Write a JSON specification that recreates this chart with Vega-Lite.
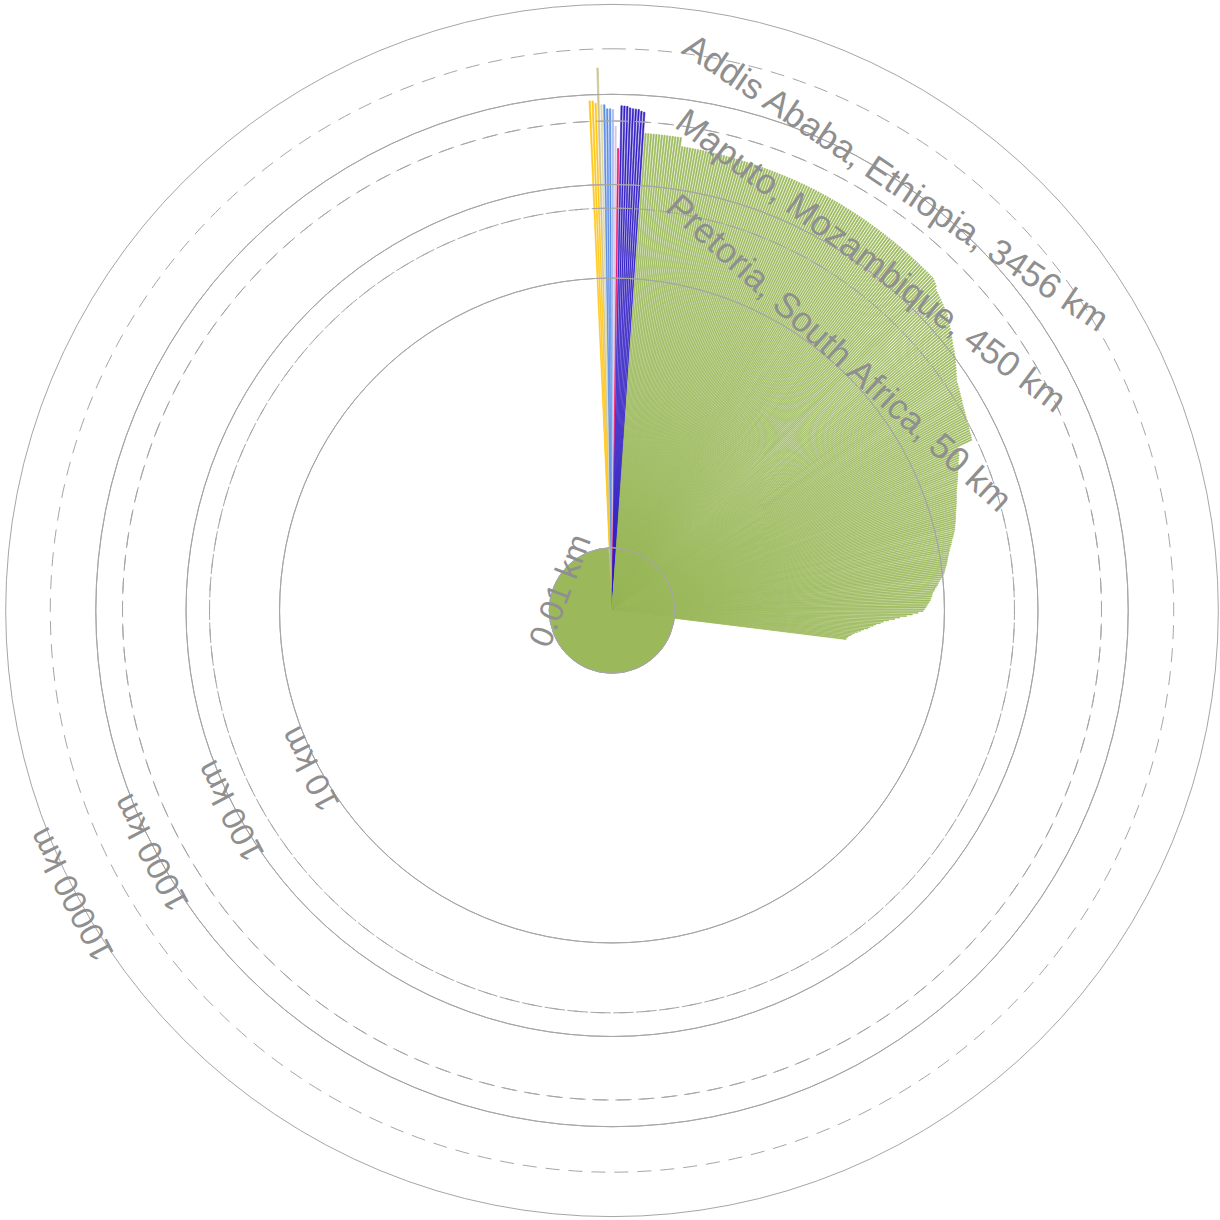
{
  "$schema": "https://vega.github.io/schema/vega-lite/v6.json",
  "width": 1216,
  "height": 1219,
  "padding": {"left": 4, "top": 1, "right": 0, "bottom": 0},
  "autosize": {"type": "none"},
  "background": "white",
  "config": {"view": {"stroke": null}},
  "datasets": {
    "bars": [
      {"g":"g1","n":1,"d":950},{"g":"g1","n":1,"d":948},{"g":"g1","n":1,"d":945},{"g":"g1","n":1,"d":890},
      {"g":"g2","n":1,"d":2190},
      {"g":"g3","n":1,"d":853},
      {"g":"g4","n":1,"d":850},{"g":"g4","n":1,"d":765},{"g":"g4","n":1,"d":765},
      {"g":"g5","n":1,"d":750},
      {"g":"g6","n":1,"d":490},
      {"g":"g7","n":1,"d":277},
      {"g":"g8","n":1,"d":830},{"g":"g8","n":1,"d":825},{"g":"g8","n":1,"d":820},{"g":"g8","n":1,"d":790},{"g":"g8","n":1,"d":775},{"g":"g8","n":1,"d":770},{"g":"g8","n":1,"d":765},{"g":"g8","n":1,"d":735},{"g":"g8","n":1,"d":720},
      {"g":"ZA","n":1,"d":420},{"g":"ZA","n":1,"d":420},{"g":"ZA","n":1,"d":419},{"g":"ZA","n":1,"d":419},{"g":"ZA","n":1,"d":419},{"g":"ZA","n":1,"d":418},{"g":"ZA","n":1,"d":418},{"g":"ZA","n":1,"d":418},{"g":"ZA","n":1,"d":417},{"g":"ZA","n":1,"d":417},{"g":"ZA","n":1,"d":417},{"g":"ZA","n":1,"d":416},{"g":"ZA","n":1,"d":416},{"g":"ZA","n":1,"d":415},
      {"g":"ZA","n":1,"d":332},{"g":"ZA","n":1,"d":332},{"g":"ZA","n":1,"d":331},{"g":"ZA","n":1,"d":331},{"g":"ZA","n":1,"d":331},{"g":"ZA","n":1,"d":330},{"g":"ZA","n":1,"d":330},{"g":"ZA","n":1,"d":330},{"g":"ZA","n":1,"d":329},{"g":"ZA","n":1,"d":329},
      {"g":"ZA","n":1,"d":329},{"g":"ZA","n":1,"d":328},{"g":"ZA","n":1,"d":328},{"g":"ZA","n":1,"d":328},{"g":"ZA","n":1,"d":327},{"g":"ZA","n":1,"d":327},{"g":"ZA","n":1,"d":327},{"g":"ZA","n":1,"d":326},{"g":"ZA","n":1,"d":326},{"g":"ZA","n":1,"d":326},
      {"g":"ZA","n":1,"d":325},{"g":"ZA","n":1,"d":325},{"g":"ZA","n":1,"d":325},{"g":"ZA","n":1,"d":324},{"g":"ZA","n":1,"d":324},{"g":"ZA","n":1,"d":324},{"g":"ZA","n":1,"d":323},{"g":"ZA","n":1,"d":323},{"g":"ZA","n":1,"d":323},{"g":"ZA","n":1,"d":322},
      {"g":"ZA","n":1,"d":322},{"g":"ZA","n":1,"d":322},{"g":"ZA","n":1,"d":321},{"g":"ZA","n":1,"d":321},{"g":"ZA","n":1,"d":321},{"g":"ZA","n":1,"d":320},{"g":"ZA","n":1,"d":320},{"g":"ZA","n":1,"d":320},{"g":"ZA","n":1,"d":319},{"g":"ZA","n":1,"d":319},
      {"g":"ZA","n":1,"d":319},{"g":"ZA","n":1,"d":318},{"g":"ZA","n":1,"d":318},{"g":"ZA","n":1,"d":318},{"g":"ZA","n":1,"d":318},{"g":"ZA","n":1,"d":317},{"g":"ZA","n":1,"d":317},
      {"g":"ZA","n":1,"d":316},{"g":"ZA","n":1,"d":316},{"g":"ZA","n":1,"d":315},{"g":"ZA","n":1,"d":315},{"g":"ZA","n":1,"d":314},{"g":"ZA","n":1,"d":314},{"g":"ZA","n":1,"d":313},{"g":"ZA","n":1,"d":313},{"g":"ZA","n":1,"d":312},{"g":"ZA","n":1,"d":311},
      {"g":"ZA","n":1,"d":311},{"g":"ZA","n":1,"d":310},{"g":"ZA","n":1,"d":310},{"g":"ZA","n":1,"d":309},{"g":"ZA","n":1,"d":308},{"g":"ZA","n":1,"d":308},{"g":"ZA","n":1,"d":307},{"g":"ZA","n":1,"d":307},{"g":"ZA","n":1,"d":306},{"g":"ZA","n":1,"d":305},
      {"g":"ZA","n":1,"d":305},{"g":"ZA","n":1,"d":304},{"g":"ZA","n":1,"d":303},{"g":"ZA","n":1,"d":303},{"g":"ZA","n":1,"d":302},{"g":"ZA","n":1,"d":302},{"g":"ZA","n":1,"d":301},{"g":"ZA","n":1,"d":300},{"g":"ZA","n":1,"d":300},{"g":"ZA","n":1,"d":299},
      {"g":"ZA","n":1,"d":298},{"g":"ZA","n":1,"d":298},{"g":"ZA","n":1,"d":297},{"g":"ZA","n":1,"d":297},{"g":"ZA","n":1,"d":296},{"g":"ZA","n":1,"d":295},{"g":"ZA","n":1,"d":295},{"g":"ZA","n":1,"d":294},{"g":"ZA","n":1,"d":293},{"g":"ZA","n":1,"d":293},
      {"g":"ZA","n":1,"d":292},{"g":"ZA","n":1,"d":292},{"g":"ZA","n":1,"d":291},{"g":"ZA","n":1,"d":290},{"g":"ZA","n":1,"d":290},{"g":"ZA","n":1,"d":289},{"g":"ZA","n":1,"d":288},{"g":"ZA","n":1,"d":288},{"g":"ZA","n":1,"d":287},{"g":"ZA","n":1,"d":287},
      {"g":"ZA","n":1,"d":286},{"g":"ZA","n":1,"d":285},{"g":"ZA","n":1,"d":285},{"g":"ZA","n":1,"d":284},{"g":"ZA","n":1,"d":283},{"g":"ZA","n":1,"d":283},{"g":"ZA","n":1,"d":282},{"g":"ZA","n":1,"d":282},{"g":"ZA","n":1,"d":281},{"g":"ZA","n":1,"d":280},
      {"g":"ZA","n":1,"d":280},{"g":"ZA","n":1,"d":279},
      {"g":"ZA","n":1,"d":272},{"g":"ZA","n":1,"d":264},{"g":"ZA","n":1,"d":256},
      {"g":"ZA","n":1,"d":239},{"g":"ZA","n":1,"d":233},{"g":"ZA","n":1,"d":228},{"g":"ZA","n":1,"d":223},{"g":"ZA","n":1,"d":218},{"g":"ZA","n":1,"d":213},{"g":"ZA","n":1,"d":208},{"g":"ZA","n":1,"d":203},{"g":"ZA","n":1,"d":199},{"g":"ZA","n":1,"d":194},
      {"g":"ZA","n":1,"d":190},{"g":"ZA","n":1,"d":183},{"g":"ZA","n":1,"d":177},{"g":"ZA","n":1,"d":171},{"g":"ZA","n":1,"d":165},{"g":"ZA","n":1,"d":159},{"g":"ZA","n":1,"d":153},{"g":"ZA","n":1,"d":148},{"g":"ZA","n":1,"d":143},{"g":"ZA","n":1,"d":138},{"g":"ZA","n":1,"d":133},{"g":"ZA","n":1,"d":128},{"g":"ZA","n":1,"d":124},
      {"g":"ZA","n":1,"d":121},{"g":"ZA","n":1,"d":117},{"g":"ZA","n":1,"d":113},{"g":"ZA","n":1,"d":109},{"g":"ZA","n":1,"d":105},{"g":"ZA","n":1,"d":101},{"g":"ZA","n":1,"d":97},{"g":"ZA","n":1,"d":94},{"g":"ZA","n":1,"d":90},{"g":"ZA","n":1,"d":87},{"g":"ZA","n":1,"d":84},
      {"g":"ZA","n":1,"d":81},{"g":"ZA","n":1,"d":80},{"g":"ZA","n":1,"d":78},{"g":"ZA","n":1,"d":77},{"g":"ZA","n":1,"d":75},{"g":"ZA","n":1,"d":74},{"g":"ZA","n":1,"d":72},{"g":"ZA","n":1,"d":71},{"g":"ZA","n":1,"d":70},{"g":"ZA","n":1,"d":68},{"g":"ZA","n":1,"d":67},{"g":"ZA","n":1,"d":66},
      {"g":"ZA","n":1,"d":65},{"g":"ZA","n":1,"d":64},{"g":"ZA","n":1,"d":63},{"g":"ZA","n":1,"d":62},{"g":"ZA","n":1,"d":61},{"g":"ZA","n":1,"d":61},{"g":"ZA","n":1,"d":60},{"g":"ZA","n":1,"d":59},{"g":"ZA","n":1,"d":58},{"g":"ZA","n":1,"d":57},{"g":"ZA","n":1,"d":56},{"g":"ZA","n":1,"d":56},{"g":"ZA","n":1,"d":55},{"g":"ZA","n":1,"d":54},
      {"g":"ZA","n":1,"d":36},{"g":"ZA","n":1,"d":35},{"g":"ZA","n":1,"d":34.5},{"g":"ZA","n":1,"d":34},{"g":"ZA","n":1,"d":33},
      {"g":"ZA","n":1,"d":32},{"g":"ZA","n":1,"d":31},{"g":"ZA","n":1,"d":30.5},{"g":"ZA","n":1,"d":29.5},{"g":"ZA","n":1,"d":29},
      {"g":"ZA","n":1,"d":28},{"g":"ZA","n":1,"d":27.3},{"g":"ZA","n":1,"d":26.7},{"g":"ZA","n":1,"d":26},{"g":"ZA","n":1,"d":25.4},{"g":"ZA","n":1,"d":24.8},{"g":"ZA","n":1,"d":24.2},{"g":"ZA","n":1,"d":23.6},{"g":"ZA","n":1,"d":23},{"g":"ZA","n":1,"d":22.5},{"g":"ZA","n":1,"d":22},
      {"g":"ZA","n":1,"d":21.8},{"g":"ZA","n":1,"d":21.4},{"g":"ZA","n":1,"d":21},{"g":"ZA","n":1,"d":20.6},{"g":"ZA","n":1,"d":20.2},{"g":"ZA","n":1,"d":19.8},{"g":"ZA","n":1,"d":19.4},{"g":"ZA","n":1,"d":19},{"g":"ZA","n":1,"d":18.7},{"g":"ZA","n":1,"d":18.4},{"g":"ZA","n":1,"d":18.1},{"g":"ZA","n":1,"d":17.8},{"g":"ZA","n":1,"d":17.5},{"g":"ZA","n":1,"d":17.2},{"g":"ZA","n":1,"d":16.9},{"g":"ZA","n":1,"d":16.7},
      {"g":"ZA","n":1,"d":16.2},{"g":"ZA","n":1,"d":15.8},{"g":"ZA","n":1,"d":15.4},{"g":"ZA","n":1,"d":15},{"g":"ZA","n":1,"d":14.6},{"g":"ZA","n":1,"d":14.3},{"g":"ZA","n":1,"d":14},{"g":"ZA","n":1,"d":13.6},
      {"g":"ZA","n":1,"d":13.2},{"g":"ZA","n":1,"d":13},{"g":"ZA","n":1,"d":12.7},{"g":"ZA","n":1,"d":12.5},{"g":"ZA","n":1,"d":12.2},{"g":"ZA","n":1,"d":12},{"g":"ZA","n":1,"d":11.8},{"g":"ZA","n":1,"d":11.6},{"g":"ZA","n":1,"d":11.4},
      {"g":"ZA","n":1,"d":11.1},{"g":"ZA","n":1,"d":10.9},{"g":"ZA","n":1,"d":10.7},{"g":"ZA","n":1,"d":10.5},{"g":"ZA","n":1,"d":10.2},{"g":"ZA","n":1,"d":10},
      {"g":"ZA","n":1,"d":9.5},{"g":"ZA","n":1,"d":9.1},{"g":"ZA","n":1,"d":8.8},
      {"g":"ZA","n":1,"d":8.6},{"g":"ZA","n":1,"d":8.3},{"g":"ZA","n":1,"d":8},{"g":"ZA","n":1,"d":7.8},{"g":"ZA","n":1,"d":7.5},
      {"g":"ZA","n":1,"d":7.4},{"g":"ZA","n":1,"d":7.3},{"g":"ZA","n":1,"d":7.1},{"g":"ZA","n":1,"d":7},
      {"g":"ZA","n":1,"d":6.8},{"g":"ZA","n":1,"d":6.6},{"g":"ZA","n":1,"d":6.4},{"g":"ZA","n":1,"d":6.2},{"g":"ZA","n":1,"d":6},{"g":"ZA","n":1,"d":5.8},
      {"g":"ZA","n":1,"d":5.1},{"g":"ZA","n":1,"d":4.4},
      {"g":"ZA","n":1,"d":3.8},{"g":"ZA","n":1,"d":3.2},
      {"g":"ZA","n":1,"d":2.8},{"g":"ZA","n":1,"d":2.4},{"g":"ZA","n":1,"d":2.1},
      {"g":"ZA","n":1,"d":1.95},{"g":"ZA","n":1,"d":1.75},{"g":"ZA","n":1,"d":1.63},{"g":"ZA","n":1,"d":1.5},
      {"g":"ZA","n":1,"d":1.43},{"g":"ZA","n":1,"d":1.29},{"g":"ZA","n":1,"d":1.2},{"g":"ZA","n":1,"d":1.11},{"g":"ZA","n":1,"d":1.03},{"g":"ZA","n":1,"d":0.97},
      {"g":"ZA","n":1,"d":0.93},{"g":"ZA","n":1,"d":0.88},{"g":"ZA","n":1,"d":0.86},{"g":"ZA","n":1,"d":0.84},
      {"g":"ZA","n":794,"d":0.01}
    ],
    "solidRings": [{"d":0.01},{"d":10},{"d":100},{"d":1000},{"d":10000}],
    "dashedRings": [{"d":60},{"d":500},{"d":3000}],
    "axisLabels": [{"d":10,"t":"10 km"},{"d":100,"t":"100 km"},{"d":1000,"t":"1000 km"},{"d":10000,"t":"10000 km"}],
    "innerLabel": [{"d":0.01,"t":"0.01 km"}],
    "cityA": [{"d":3456,"t":"Addis Ababa, Ethiopia, 3456 km"}],
    "cityM": [{"d":450,"t":"Maputo, Mozambique, 450 km"}],
    "cityP": [{"d":50,"t":"Pretoria, South Africa, 50 km"}]
  },
  "layer": [
    {
      "data": {"name": "bars"},
      "transform": [
        {"window": [{"op": "sum", "field": "n", "as": "t1"}], "frame": [null, 0]},
        {"window": [{"op": "sum", "field": "n", "as": "t0"}], "frame": [null, -1]}
      ],
      "mark": {"type": "arc", "padAngle": 0.003, "strokeWidth": 0.6},
      "encoding": {
        "theta": {"field": "t0", "type": "quantitative", "stack": null, "scale": {"domain": [0, 1100], "range": [-0.05236, 6.23083]}},
        "theta2": {"field": "t1"},
        "radius": {"field": "d", "type": "quantitative", "scale": {"type": "log", "domain": [0.01, 10000], "range": [62.8, 602]}},
        "radius2": {"value": 0},
        "color": {"field": "g", "type": "nominal", "legend": null, "scale": {"domain": ["g1","g2","g3","g4","g5","g6","g7","g8","ZA"], "range": ["#ffc61a","#cfc48d","#ddd6a6","#5b8de8","#a3b9ee","#d6c7e6","#e8196b","#3421c2","#9bb95a"]}},
        "stroke": {"field": "g", "type": "nominal", "legend": null, "scale": {"domain": ["g1","g2","g3","g4","g5","g6","g7","g8","ZA"], "range": ["#ffc61a","#cfc48d","#ddd6a6","#5b8de8","#a3b9ee","#d6c7e6","#e8196b","#3421c2","#9bb95a"]}}
      }
    },
    {
      "data": {"name": "solidRings"},
      "mark": {"type": "arc", "filled": false, "stroke": "#a6a6a6", "strokeWidth": 1, "theta": 0, "theta2": 6.2832},
      "encoding": {"radius": {"field": "d", "type": "quantitative"}, "radius2": {"value": 0}}
    },
    {
      "data": {"name": "dashedRings"},
      "mark": {"type": "arc", "filled": false, "stroke": "#a6a6a6", "strokeWidth": 1, "strokeDash": [14, 9], "theta": 0, "theta2": 6.2832},
      "encoding": {"radius": {"field": "d", "type": "quantitative"}, "radius2": {"value": 0}}
    },
    {
      "data": {"name": "axisLabels"},
      "mark": {"type": "text", "theta": 4.229, "radiusOffset": 8, "angle": 242.3, "align": "center", "baseline": "middle", "fontSize": 33, "font": "Liberation Sans", "color": "#8f8f8f"},
      "encoding": {"radius": {"field": "d", "type": "quantitative"}, "text": {"field": "t"}}
    },
    {
      "data": {"name": "innerLabel"},
      "mark": {"type": "text", "theta": 5.08, "radiusOffset": -8, "angle": 291, "align": "center", "baseline": "middle", "fontSize": 33, "font": "Liberation Sans", "color": "#8f8f8f"},
      "encoding": {"radius": {"field": "d", "type": "quantitative"}, "text": {"field": "t"}}
    },
    {
      "data": {"name": "cityA"},
      "mark": {"type": "text", "theta": 0.1222, "radiusOffset": 2, "angle": 33.9, "align": "left", "baseline": "alphabetic", "fontSize": 35.5, "font": "Liberation Sans", "color": "#8f8f8f"},
      "encoding": {"radius": {"field": "d", "type": "quantitative"}, "text": {"field": "t"}}
    },
    {
      "data": {"name": "cityM"},
      "mark": {"type": "text", "theta": 0.1257, "radiusOffset": 7, "angle": 37, "align": "left", "baseline": "alphabetic", "fontSize": 35.5, "font": "Liberation Sans", "color": "#8f8f8f"},
      "encoding": {"radius": {"field": "d", "type": "quantitative"}, "text": {"field": "t"}}
    },
    {
      "data": {"name": "cityP"},
      "mark": {"type": "text", "theta": 0.1292, "radiusOffset": 9, "angle": 42.3, "align": "left", "baseline": "alphabetic", "fontSize": 35.5, "font": "Liberation Sans", "color": "#8f8f8f"},
      "encoding": {"radius": {"field": "d", "type": "quantitative"}, "text": {"field": "t"}}
    }
  ]
}
